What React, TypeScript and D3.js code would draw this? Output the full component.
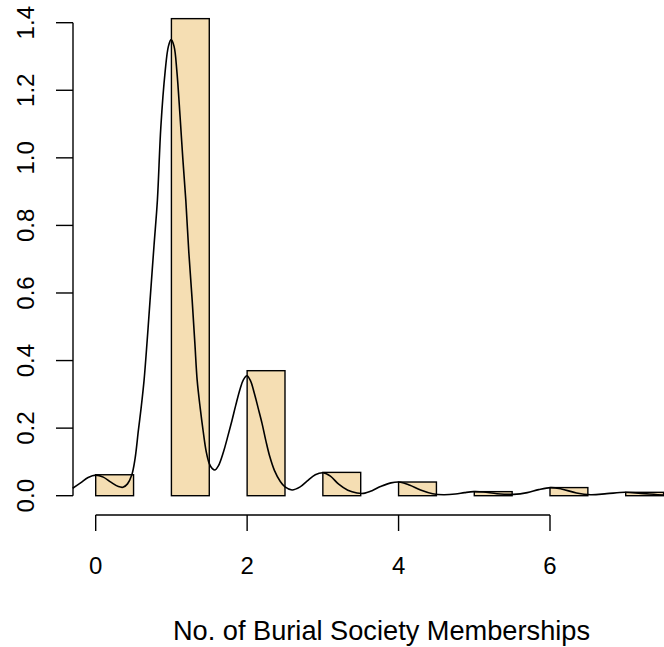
import React from "react";
import * as d3 from "d3";

const binStarts = [0, 1, 2, 3, 4, 5, 6, 7];
const binWidth = 0.5;
const binDensity = [0.062, 1.412, 0.37, 0.069, 0.0405, 0.012, 0.024, 0.01];

const densX = [-0.304, -0.2, -0.1, 0.0, 0.1, 0.2, 0.3, 0.36, 0.42, 0.476, 0.52, 0.564, 0.6, 0.639, 0.68, 0.718, 0.77, 0.815, 0.86, 0.917, 0.96, 0.996, 1.035, 1.071, 1.115, 1.15, 1.19, 1.23, 1.274, 1.31, 1.34, 1.38, 1.42, 1.46, 1.5, 1.54, 1.575, 1.62, 1.688, 1.74, 1.799, 1.85, 1.909, 1.95, 1.997, 2.045, 2.094, 2.145, 2.196, 2.25, 2.3, 2.36, 2.438, 2.5, 2.593, 2.7, 2.791, 2.9, 3.003, 3.1, 3.209, 3.33, 3.45, 3.536, 3.65, 3.761, 3.9, 4.025, 4.15, 4.29, 4.45, 4.594, 4.75, 4.87, 4.991, 5.12, 5.3, 5.519, 5.7, 5.85, 6.009, 6.15, 6.35, 6.538, 6.75, 6.987, 7.2, 7.517, 7.8];
const densY = [0.022, 0.038, 0.054, 0.061, 0.055, 0.04, 0.027, 0.025, 0.035, 0.061, 0.11, 0.194, 0.26, 0.342, 0.46, 0.579, 0.74, 0.875, 1.09, 1.255, 1.33, 1.35, 1.33, 1.259, 1.12, 1.0, 0.875, 0.72, 0.579, 0.45, 0.342, 0.26, 0.19, 0.13, 0.095, 0.08, 0.076, 0.088, 0.13, 0.172, 0.222, 0.268, 0.317, 0.343, 0.355, 0.34, 0.304, 0.26, 0.215, 0.16, 0.115, 0.075, 0.042, 0.026, 0.017, 0.026, 0.043, 0.062, 0.068, 0.058, 0.034, 0.016, 0.008, 0.007, 0.015, 0.027, 0.038, 0.04, 0.031, 0.017, 0.006, 0.003, 0.005, 0.009, 0.012, 0.011, 0.006, 0.004, 0.009, 0.018, 0.024, 0.02, 0.008, 0.003, 0.006, 0.01, 0.007, 0.002, 0.001];

const xTicks = [0, 2, 4, 6];
const yTicks = [0, 0.2, 0.4, 0.6, 0.8, 1.0, 1.2, 1.4];
const xTitle = "No. of Burial Society Memberships";

export default function App() {
  const W = 664, H = 647;
  const x = d3.scaleLinear().domain([0, 6]).range([95.7, 550]);
  const y = d3.scaleLinear().domain([0, 1.4]).range([495.7, 22.7]);
  const line = d3
    .line<number>()
    .x((_, i) => x(densX[i]))
    .y((d) => y(d))
    .curve(d3.curveCatmullRom.alpha(0.5));
  const font = "'Liberation Sans', Arial, Helvetica, sans-serif";
  const lw = 1.4;
  const axisY = 515;
  const axisX = 73;
  return (
    <svg
      width={W}
      height={H}
      style={{ position: "absolute", left: 0, top: 0, background: "#fff" }}
      fontFamily={font}
    >
      <rect x={0} y={0} width={W} height={H} fill="#fff" />
      {binStarts.map((b, i) => (
        <rect
          key={i}
          x={x(b)}
          y={y(binDensity[i])}
          width={x(b + binWidth) - x(b)}
          height={y(0) - y(binDensity[i])}
          fill="#F5DEB3"
          stroke="#000"
          strokeWidth={lw}
        />
      ))}
      <path d={line(densY) || ""} fill="none" stroke="#000" strokeWidth={1.6} />
      {/* x axis */}
      <line x1={x(xTicks[0])} x2={x(xTicks[xTicks.length - 1])} y1={axisY} y2={axisY} stroke="#000" strokeWidth={lw} />
      {xTicks.map((t) => (
        <g key={t}>
          <line x1={x(t)} x2={x(t)} y1={axisY} y2={axisY + 16} stroke="#000" strokeWidth={lw} />
          <text x={x(t)} y={574} textAnchor="middle" fontSize={24}>
            {t}
          </text>
        </g>
      ))}
      {/* y axis */}
      <line x1={axisX} x2={axisX} y1={y(0)} y2={y(1.4)} stroke="#000" strokeWidth={lw} />
      {yTicks.map((t) => (
        <g key={t}>
          <line x1={axisX} x2={axisX - 17} y1={y(t)} y2={y(t)} stroke="#000" strokeWidth={lw} />
          <text
            transform={`translate(34,${y(t)}) rotate(-90)`}
            textAnchor="middle"
            fontSize={24}
          >
            {t.toFixed(1)}
          </text>
        </g>
      ))}
      <text x={381.5} y={640} textAnchor="middle" fontSize={27.2}>
        {xTitle}
      </text>
    </svg>
  );
}
